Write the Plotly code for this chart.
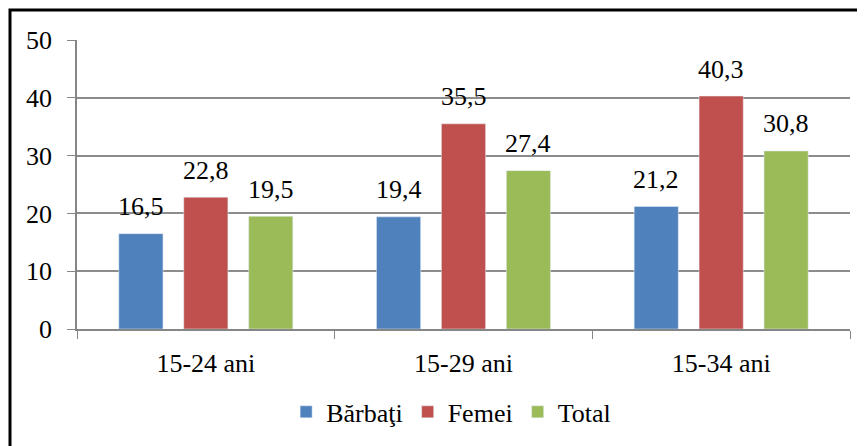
import plotly.graph_objects as go

categories = ["15-24 ani", "15-29 ani", "15-34 ani"]
barbati = [16.5, 19.4, 21.2]
femei = [22.8, 35.5, 40.3]
total = [19.5, 27.4, 30.8]
series_names = ["Bărbaţi", "Femei", "Total"]
colors = ["#4F81BD", "#C0504D", "#9BBB59"]

def fmt(v):
    return f"{v:.1f}".replace(".", ",")

font = "Liberation Serif"
FS = 26
BARGAP = 0.244
series = [barbati, femei, total]

fig = go.Figure()
for name, vals, col in zip(series_names, series, colors):
    fig.add_trace(go.Bar(x=categories, y=vals, name=name, marker_color=col))

# value labels placed above each bar, centred on the bar's slot in its group
slot = (1 - BARGAP) / len(series)
for i, vals in enumerate(series):
    for j, v in enumerate(vals):
        fig.add_annotation(
            x=j + (i - (len(series) - 1) / 2) * slot, y=v, xref="x", yref="y",
            text=fmt(v), showarrow=False, yanchor="middle", yshift=27,
            font=dict(family=font, size=FS, color="black"),
        )

# page body has an 8px margin: figure is drawn 8px right/down of the window origin
fig.update_layout(
    width=857, height=438,
    margin=dict(l=69, r=15, t=32, b=117, autoexpand=False),
    paper_bgcolor="white", plot_bgcolor="white",
    barmode="group", bargap=BARGAP, bargroupgap=0.32,
    font=dict(family=font, size=FS, color="black"),
    showlegend=True,
    legend=dict(orientation="h", x=0.484, xanchor="center", y=-0.287, yanchor="middle",
                font=dict(family=font, size=FS, color="black"), itemwidth=30,
                traceorder="normal", bgcolor="rgba(0,0,0,0)"),
    xaxis=dict(showline=True, linecolor="#868686", linewidth=1.5, ticks="outside",
               tickson="boundaries", ticklen=8, tickcolor="#868686", showgrid=False,
               tickfont=dict(family=font, size=FS, color="black"), ticklabelstandoff=10),
    yaxis=dict(range=[0, 50], dtick=10, showline=True, linecolor="#868686", linewidth=1.5,
               ticks="outside", ticklen=8, tickcolor="#868686", gridcolor="#8c8c8c",
               gridwidth=1.5, zeroline=False, tickfont=dict(family=font, size=FS, color="black"),
               ticklabelstandoff=10),
    shapes=[dict(type="rect", xref="paper", yref="paper",
                 x0=(2 - 69) / 773, x1=1.1, y0=-0.6, y1=(321 - 2) / 289,
                 line=dict(color="black", width=3), fillcolor="rgba(0,0,0,0)", layer="below")],
)
fig.write_html("out.html")
